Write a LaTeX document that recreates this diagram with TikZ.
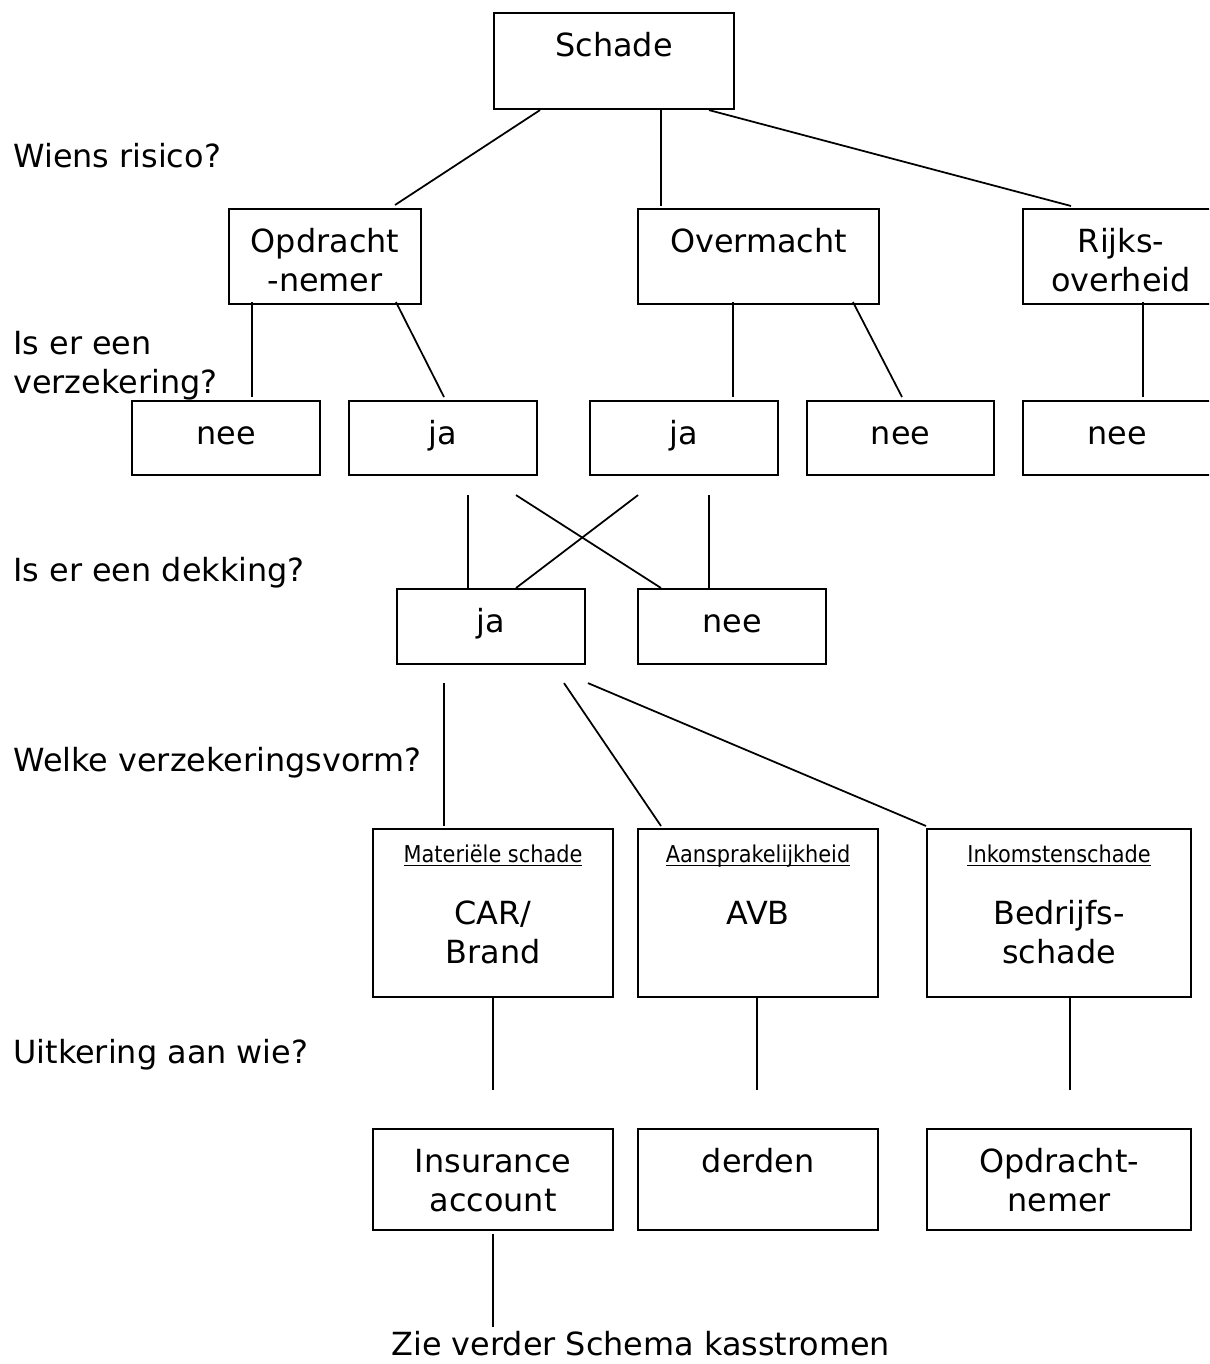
\documentclass[tikz,border=0pt]{standalone}
\usepackage{fontspec}
\setmainfont{DejaVu Sans}
\newfontfamily\smalfont{DejaVu Sans Condensed}
\usetikzlibrary{calc}

\newdimen\pix
\pix=0.02cm
\newcommand{\groot}{\fontsize{18.14pt}{22.1pt}\selectfont}
\newcommand{\klein}{\smalfont\fontsize{13.2pt}{16pt}\selectfont}
% tekst bovenaan in een vak
\newcommand{\vaktekst}[3]{\parbox[c][#2\pix][t]{#1\pix}{\centering\groot\vspace*{16.7\pix}\strut #3\par}}
\newcommand{\soortvak}[3]{\parbox[c][168\pix][t]{#1\pix}{\centering\vspace*{14.2\pix}{\klein\strut\underline{\smash{#2}}\par}\vspace{23\pix}\groot\strut #3\par}}

\tikzset{
  vak/.style={draw, line width=1.2pt, inner sep=0pt, anchor=north west},
  lijn/.style={line width=1pt},
  vraag/.style={inner sep=0pt, anchor=base west, font=\groot},
}

\begin{document}
\begin{tikzpicture}[x=\pix, y=-\pix]
    \fill[white] (0,0) rectangle (1209,1364);
    \clip (0,0) rectangle (1209,1364);

    % de vragen links
    \node[vraag] (wiens) at (13,168) {Wiens risico?};
    \node[vraag, align=left, anchor=north west] (verzekering) at (13,327) {\strut Is er een\\verzekering?};
    \node[vraag] (dekking) at (13,581) {Is er een dekking?};
    \node[vraag] (vorm) at (13,771) {Welke verzekeringsvorm?};
    \node[vraag] (uitkering) at (13,1063) {Uitkering aan wie?};

    % de vakken
    \node[vak] (schade) at (493,12) {\vaktekst{240}{96}{Schade}};

    \node[vak] (opn) at (228,208) {\vaktekst{192}{95}{Opdracht\\-nemer}};
    \node[vak] (overmacht) at (637,208) {\vaktekst{241}{95}{Overmacht}};
    \node[vak] (rijks) at (1022,208) {\vaktekst{196}{95}{Rijks-\\overheid}};

    \node[vak] (nee1) at (131,400) {\vaktekst{188}{74}{nee}};
    \node[vak] (ja1) at (348,400) {\vaktekst{188}{74}{ja}};
    \node[vak] (ja2) at (589,400) {\vaktekst{188}{74}{ja}};
    \node[vak] (nee2) at (806,400) {\vaktekst{187}{74}{nee}};
    \node[vak] (nee3) at (1022,400) {\vaktekst{188}{74}{nee}};

    \node[vak] (ja3) at (396,588) {\vaktekst{188}{75}{ja}};
    \node[vak] (nee4) at (637,588) {\vaktekst{188}{75}{nee}};

    \node[vak] (materieel) at (372,828) {\soortvak{240}{Materiële schade}{CAR/\\Brand}};
    \node[vak] (avb) at (637,828) {\soortvak{240}{Aansprakelijkheid}{AVB}};
    \node[vak] (bedrijf) at (926,828) {\soortvak{264}{Inkomstenschade}{Bedrijfs-\\schade}};

    \node[vak] (insurance) at (372,1128) {\vaktekst{240}{101}{Insurance\\account}};
    \node[vak] (derden) at (637,1128) {\vaktekst{240}{101}{derden}};
    \node[vak] (opn2) at (926,1128) {\vaktekst{264}{101}{Opdracht-\\nemer}};

    \node[vraag] (zie) at (391,1355) {Zie verder Schema kasstromen};

    % wiens risico
    \draw[lijn] ($(schade.south west)+(47,0)$) -- ($(opn.north west)+(167,-3)$);
    \draw[lijn] ($(schade.south west)+(168,0)$) -- ($(overmacht.north west)+(24,-2)$);
    \draw[lijn] ($(schade.south west)+(216,0)$) -- ($(rijks.north west)+(49,-2)$);

    % verzekering
    \draw[lijn] ($(opn.south west)+(24,-3)$) -- ($(nee1.north west)+(121,-3)$);
    \draw[lijn] ($(opn.south west)+(168,-3)$) -- ($(ja1.north west)+(96,-3)$);
    \draw[lijn] ($(overmacht.south west)+(96,-3)$) -- ($(ja2.north west)+(144,-3)$);
    \draw[lijn] ($(overmacht.south west)+(216,-3)$) -- ($(nee2.north west)+(96,-3)$);
    \draw[lijn] ($(rijks.south west)+(121,-3)$) -- ($(nee3.north west)+(121,-3)$);

    % dekking
    \draw[lijn] ($(ja1.south west)+(120,19)$) -- ($(ja3.north west)+(72,0)$);
    \draw[lijn] ($(ja1.south west)+(168,19)$) -- ($(nee4.north west)+(24,0)$);
    \draw[lijn] ($(ja2.south west)+(49,19)$) -- ($(ja3.north west)+(120,0)$);
    \draw[lijn] ($(ja2.south west)+(120,19)$) -- ($(nee4.north west)+(72,0)$);

    % verzekeringsvorm
    \draw[lijn] ($(ja3.south west)+(48,18)$) -- ($(materieel.north west)+(72,-2)$);
    \draw[lijn] ($(ja3.south west)+(168,18)$) -- ($(avb.north west)+(24,-2)$);
    \draw[lijn] ($(ja3.south west)+(192,18)$) -- ($(bedrijf.north west)+(0,-2)$);

    % uitkering
    \draw[lijn] ($(materieel.south west)+(121,0)$) -- ($(insurance.north west)+(121,-38)$);
    \draw[lijn] ($(avb.south west)+(120,0)$) -- ($(derden.north west)+(120,-38)$);
    \draw[lijn] ($(bedrijf.south west)+(144,0)$) -- ($(opn2.north west)+(144,-38)$);
    \draw[lijn] ($(insurance.south west)+(121,3)$) -- ($(zie.north west)+(102,-3)$);
\end{tikzpicture}
\end{document}
